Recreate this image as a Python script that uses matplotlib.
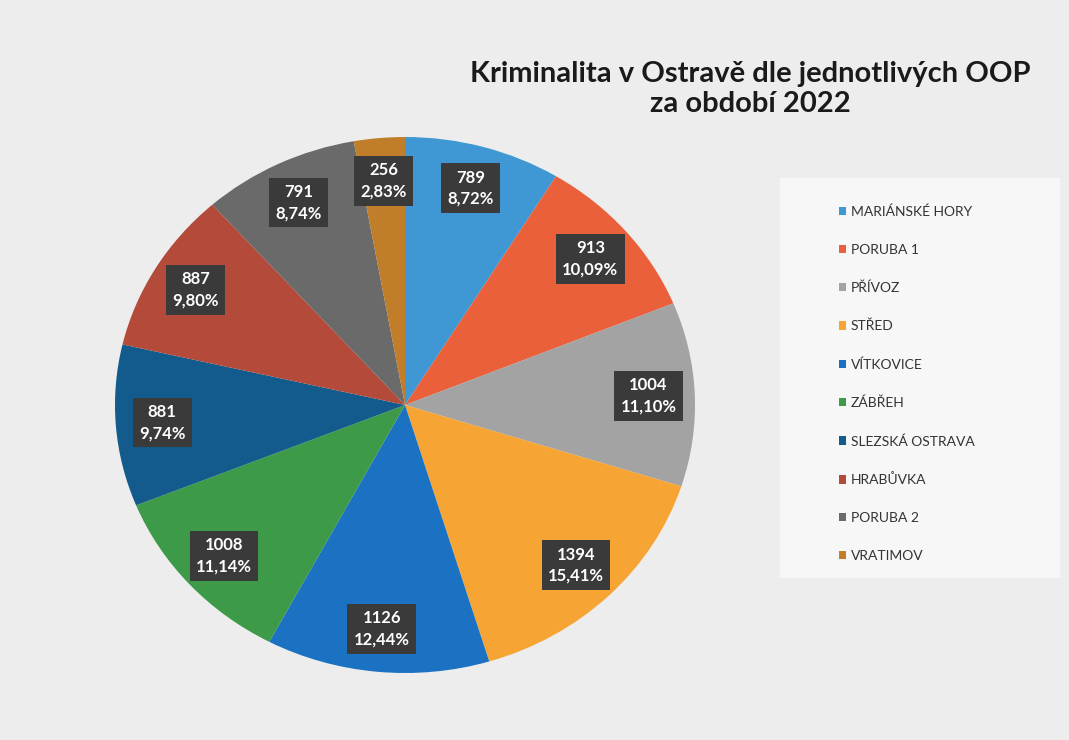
import matplotlib.pyplot as plt
from matplotlib.patches import Rectangle

# Kriminalita v Ostrave 2022
districts = ['MARIÁNSKÉ HORY', 'PORUBA 1', 'PŘÍVOZ', 'STŘED', 'VÍTKOVICE',
             'ZÁBŘEH', 'SLEZSKÁ OSTRAVA', 'HRABŮVKA', 'PORUBA 2', 'VRATIMOV']
cases = [789, 913, 1004, 1394, 1126, 1008, 881, 887, 791, 256]
colors = ['#3f98d3', '#e9603b', '#a3a3a3', '#f6a534', '#1b72c2',
          '#3d9a49', '#135b8c', '#b34a3a', '#6a6a6a', '#c07d2a']

total = sum(cases)

plt.rcParams['font.family'] = ['Lato', 'DejaVu Sans']

fig = plt.figure(figsize=(10.69, 7.4), dpi=100)
fig.patch.set_facecolor('#ededed')

# white-ish panel behind the legend
fig.patches.append(Rectangle((780 / 1069, 1 - 578 / 740), 280 / 1069, 400 / 740,
                             transform=fig.transFigure, facecolor='#f7f7f7',
                             edgecolor='none', zorder=0))

# pie is slightly squashed in the scan, so aspect stays auto
ax = fig.add_axes([115 / 1069, 67 / 740, 580 / 1069, 536 / 740])


def label(pct):
    value = round(pct * total / 100)
    return f"{value}\n{pct:.2f}".replace('.', ',') + '%'


wedges, texts, autotexts = ax.pie(cases, colors=colors, startangle=90,
                                  counterclock=False, autopct=label,
                                  pctdistance=0.84,
                                  wedgeprops={'linewidth': 0})
for t in autotexts:
    t.set_color('white')
    t.set_fontsize(12)
    t.set_fontweight('bold')
    t.set_linespacing(1.4)
    t.set_bbox({'facecolor': '#3a3a3a', 'edgecolor': 'none', 'pad': 4.5})

ax.set_xlim(-1, 1)
ax.set_ylim(-1, 1)
ax.set_aspect('auto')

fig.text(750 / 1069, 1 - 89 / 740, 'Kriminalita v Ostravě dle jednotlivých OOP\nza období 2022',
         ha='center', va='center', fontsize=21, fontweight='bold',
         color='#1a1a1a', linespacing=1.15)

fig.legend(wedges, districts, loc='upper left',
           bbox_to_anchor=(826 / 1069, 1 - 193 / 740), frameon=False,
           fontsize=10, labelspacing=1.86, handlelength=0.55, handleheight=0.55,
           handletextpad=0.35, labelcolor='#333333')

fig.savefig('out.png', dpi=100, facecolor=fig.get_facecolor())
